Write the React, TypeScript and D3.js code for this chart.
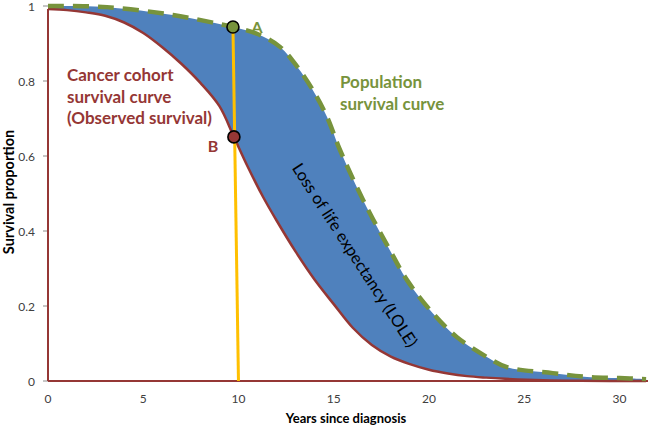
import React from "react";
import * as d3 from "d3";

// ---- data ----
const xTicks = [0, 5, 10, 15, 20, 25, 30];
const yTicks = [0, 0.2, 0.4, 0.6, 0.8, 1];
const yTickLabels = ["0", "0.2", "0.4", "0.6", "0.8", "1"];

// Population survival curve (years, proportion)
const popYears = [0, 3.1, 6.56, 9.0, 9.71, 10.97, 12.18, 13.07, 13.9, 14.65, 15.33, 16.54, 17.95, 18.85, 20.2, 21.47, 23.04, 24.1, 26.5, 28.3, 30, 31.4];
const popSurv = [1.0, 0.997, 0.976, 0.952, 0.944, 0.926, 0.891, 0.839, 0.776, 0.704, 0.616, 0.483, 0.349, 0.269, 0.181, 0.117, 0.064, 0.037, 0.021, 0.011, 0.008, 0.005];

// Cancer cohort survival curve
const canYears = [0, 1, 2, 3, 4, 5, 6, 7, 8, 9, 9.76, 10.5, 11.3, 12, 13, 14, 15, 16, 17, 18, 19, 20, 21, 22, 23, 24, 26, 28, 31.4];
const canSurv = [0.992, 0.989, 0.983, 0.974, 0.956, 0.928, 0.89, 0.846, 0.795, 0.733, 0.651, 0.57, 0.49, 0.428, 0.345, 0.27, 0.205, 0.142, 0.096, 0.065, 0.045, 0.03, 0.02, 0.013, 0.009, 0.006, 0.002, 0.0005, 0.0];

const pointA = { year: 9.71, surv: 0.944 };
const pointB = { year: 9.76, surv: 0.651 };
const yellowBaseYear = 10;

const W = 650, H = 426;
const RED = "#953735";
const GREEN = "#77933c";
const BLUE = "#4f81bd";
const YELLOW = "#ffc000";
const FONT = "Lato, 'Liberation Sans', sans-serif";

export default function App() {
  const x = d3.scaleLinear().domain([0, 31.5]).range([48, 648]);
  const y = d3.scaleLinear().domain([0, 1]).range([381, 6]);

  const pop: [number, number][] = popYears.map((t, i) => [t, popSurv[i]]);
  const can: [number, number][] = canYears.map((t, i) => [t, canSurv[i]]);

  const line = d3
    .line<[number, number]>()
    .x((d) => x(d[0]))
    .y((d) => y(d[1]))
    .curve(d3.curveCatmullRom.alpha(0.5));

  const popPath = line(pop) || "";
  const canPath = line(can) || "";
  const canRev = line([...can].reverse()) || "";
  const areaPath = popPath + "L" + canRev.slice(1) + "Z";

  return (
    <svg width={W} height={H} style={{ position: "absolute", left: 0, top: 0, background: "#fff" }}>
      <rect x={0} y={0} width={W} height={H} fill="#fff" />
      {/* fill between curves */}
      <path d={areaPath} fill={BLUE} stroke="none" />

      {/* y tick marks */}
      {yTicks.map((t, i) => (
        <g key={"yt" + i}>
          <line x1={x(0) - 5} x2={x(0)} y1={y(t)} y2={y(t)} stroke="#8c8c8c" strokeWidth={1} />
          <text
            x={x(0) - 13}
            y={y(t)}
            textAnchor="end"
            dominantBaseline="central"
            fontFamily={FONT}
            fontSize={12}
            fill="#404040"
          >
            {yTickLabels[i]}
          </text>
        </g>
      ))}
      {xTicks.map((t) => (
        <text
          key={"xt" + t}
          x={x(t)}
          y={398}
          textAnchor="middle"
          dominantBaseline="central"
          fontFamily={FONT}
          fontSize={12}
          fill="#404040"
        >
          {t}
        </text>
      ))}

      {/* red axis-like lines */}
      <line x1={x(0)} x2={x(0)} y1={y(0)} y2={y(canSurv[0])} stroke={RED} strokeWidth={2} />
      <line x1={x(0)} x2={x(31.5)} y1={y(0)} y2={y(0)} stroke={RED} strokeWidth={2.2} />

      {/* cancer curve */}
      <path d={canPath} fill="none" stroke={RED} strokeWidth={2.5} />
      {/* population curve dashed */}
      <path d={popPath} fill="none" stroke={GREEN} strokeWidth={4.5} strokeDasharray="16,9" />

      {/* yellow line */}
      <line
        x1={x(pointA.year)}
        y1={y(pointA.surv)}
        x2={x(yellowBaseYear)}
        y2={y(0)}
        stroke={YELLOW}
        strokeWidth={3}
      />
      <circle cx={x(pointA.year)} cy={y(pointA.surv)} r={6} fill={GREEN} stroke="#000" strokeWidth={1.6} />
      <circle cx={x(pointB.year)} cy={y(pointB.surv)} r={6} fill={RED} stroke="#000" strokeWidth={1.6} />

      {/* labels */}
      <text x={257} y={26} textAnchor="middle" dominantBaseline="central" fontFamily={FONT} fontWeight="bold" fontSize={16} fill={GREEN}>
        A
      </text>
      <text x={213} y={145} textAnchor="middle" dominantBaseline="central" fontFamily={FONT} fontWeight="bold" fontSize={16} fill={RED}>
        B
      </text>

      <g fontFamily={FONT} fontWeight="bold" fontSize={17} fill={RED}>
        <text x={67} y={81}>Cancer cohort</text>
        <text x={67} y={103}>survival curve</text>
        <text x={67} y={124}>(Observed survival)</text>
      </g>
      <g fontFamily={FONT} fontWeight="bold" fontSize={17} fill={GREEN}>
        <text x={340} y={88}>Population</text>
        <text x={340} y={110}>survival curve</text>
      </g>

      <text
        transform={`translate(355,255) rotate(57)`}
        textAnchor="middle"
        dominantBaseline="central"
        fontFamily={FONT}
        fontSize={16.5}
        fill="#000"
      >
        Loss of life expectancy (LOLE)
      </text>

      {/* axis titles */}
      <text x={346} y={418} textAnchor="middle" dominantBaseline="central" fontFamily={FONT} fontWeight="bold" fontSize={13} fill="#000">
        Years since diagnosis
      </text>
      <text
        transform={`translate(8,192) rotate(-90)`}
        textAnchor="middle"
        dominantBaseline="central"
        fontFamily={FONT}
        fontWeight="bold"
        fontSize={14.5}
        fill="#000"
      >
        Survival proportion
      </text>
    </svg>
  );
}
